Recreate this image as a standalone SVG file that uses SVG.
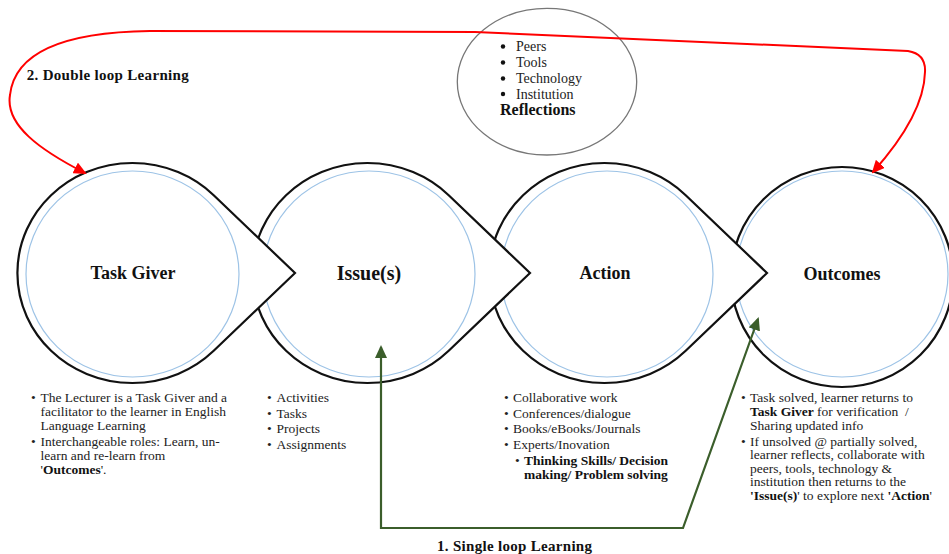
<svg xmlns="http://www.w3.org/2000/svg" width="949" height="554" viewBox="0 0 949 554">
<style>
.outer{fill:#fff;stroke:#111;stroke-width:2.2}
.inner{fill:none;stroke:#9dc3e6;stroke-width:1.2}
.title{font-family:"Liberation Serif","Times New Roman",serif;font-weight:bold;font-size:18px;fill:#111;text-anchor:middle}
.t{font-family:"Liberation Serif","Times New Roman",serif;font-size:13.5px;fill:#222}
.tr{font-family:"Liberation Serif","Times New Roman",serif;font-size:14px;fill:#222}
.b{font-weight:bold;fill:#111}
.dot{fill:#111}
.lbl{font-family:"Liberation Serif","Times New Roman",serif;font-weight:bold;font-size:15px;fill:#111}
.red{fill:none;stroke:#ff0000;stroke-width:2}
.green{fill:none;stroke:#3b5e2b;stroke-width:2.2}
</style>
<defs>
<marker id="ahRed" markerUnits="userSpaceOnUse" markerWidth="13" markerHeight="12" viewBox="0 0 13 12" refX="11" refY="6" orient="auto-start-reverse"><path d="M0,0 L13,6 L0,12 z" fill="#ff0000"/></marker>
<marker id="ahGreen" markerUnits="userSpaceOnUse" markerWidth="13" markerHeight="12" viewBox="0 0 13 12" refX="11" refY="6" orient="auto-start-reverse"><path d="M0,0 L13,6 L0,12 z" fill="#3b5e2b"/></marker>
</defs>

<g id="node-outcomes">
<ellipse class="outer" cx="842" cy="277" rx="111" ry="110"/>
<ellipse class="inner" cx="842" cy="274" rx="106" ry="103"/>
<text class="title" x="842" y="280">Outcomes</text>
<text class="t" x="741" y="402">•</text><text class="t" x="750" y="402">Task solved, learner returns to</text>
<text class="t" x="750" y="416"><tspan class="b">Task Giver</tspan> for verification &#160;/</text>
<text class="t" x="750" y="430">Sharing updated info</text>
<text class="t" x="741" y="445.5">•</text><text class="t" x="750" y="445.5">If unsolved @ partially solved,</text>
<text class="t" x="750" y="459">learner reflects, collaborate with</text>
<text class="t" x="750" y="472.5">peers, tools, technology &amp;</text>
<text class="t" x="750" y="486">institution then returns to the</text>
<text class="t" x="750" y="499.5"><tspan class="b">'Issue(s)</tspan>' to explore next <tspan class="b">'Action</tspan>'</text>
</g>

<g id="node-action">
<path class="outer" d="M767 273 L685.7 350.8 A115 110 0 1 1 685.7 195.2 Z"/>
<ellipse class="inner" cx="607" cy="274" rx="106" ry="103"/>
<text class="title" x="605" y="279">Action</text>
<text class="t" x="504" y="402">•</text><text class="t" x="513" y="402">Collaborative work</text>
<text class="t" x="504" y="417.5">•</text><text class="t" x="513" y="417.5">Conferences/dialogue</text>
<text class="t" x="504" y="433">•</text><text class="t" x="513" y="433">Books/eBooks/Journals</text>
<text class="t" x="504" y="449">•</text><text class="t" x="513" y="449">Experts/Inovation</text>
<text class="t" x="515" y="465">•</text><text class="t b" x="524" y="465">Thinking Skills/ Decision</text>
<text class="t b" x="524" y="479">making/ Problem solving</text>
</g>

<g id="node-issues">
<path class="outer" d="M530 273 L448.7 350.8 A115 110 0 1 1 448.7 195.2 Z"/>
<ellipse class="inner" cx="369" cy="274" rx="106" ry="103"/>
<text class="title" x="369" y="280" style="font-size:20px">Issue(s)</text>
<text class="t" x="267" y="402">•</text><text class="t" x="276.5" y="402">Activities</text>
<text class="t" x="267" y="417.5">•</text><text class="t" x="276.5" y="417.5">Tasks</text>
<text class="t" x="267" y="433">•</text><text class="t" x="276.5" y="433">Projects</text>
<text class="t" x="267" y="448.5">•</text><text class="t" x="276.5" y="448.5">Assignments</text>
</g>

<g id="node-taskgiver">
<path class="outer" d="M295 273 L213.7 350.8 A115 110 0 1 1 213.7 195.2 Z"/>
<ellipse class="inner" cx="132.5" cy="274" rx="106.5" ry="103"/>
<text class="title" x="133" y="279">Task Giver</text>
<text class="t" x="31" y="402">•</text><text class="t" x="40.5" y="402">The Lecturer is a Task Giver and a</text>
<text class="t" x="40.5" y="416">facilitator to the learner in English</text>
<text class="t" x="40.5" y="430">Language Learning</text>
<text class="t" x="31" y="445.5">•</text><text class="t" x="40.5" y="445.5">Interchangeable roles: Learn, un-</text>
<text class="t" x="40.5" y="459.5">learn and re-learn from</text>
<text class="t" x="40.5" y="473.5">'<tspan class="b">Outcomes</tspan>'.</text>
</g>

<g id="node-reflections">
<ellipse cx="547" cy="81.7" rx="89.7" ry="73.3" fill="none" stroke="#777" stroke-width="1.3"/>
<circle class="dot" cx="503" cy="46.5" r="2.2"/><text class="tr" x="516" y="51">Peers</text>
<circle class="dot" cx="503" cy="62.5" r="2.2"/><text class="tr" x="516" y="67">Tools</text>
<circle class="dot" cx="503" cy="78.5" r="2.2"/><text class="tr" x="516" y="83">Technology</text>
<circle class="dot" cx="503" cy="94" r="2.2"/><text class="tr" x="516" y="98.5">Institution</text>
<text class="tr b" x="500" y="115" style="font-size:16px">Reflections</text>
</g>

<g id="connectors">
<path class="red" marker-start="url(#ahRed)" marker-end="url(#ahRed)" d="M85 173 C40 150 5 125 10 95 C15 50 70 32 150 31 L475 32 L908 51 Q926 54 925 72 Q924 115 873 172"/>
<text class="lbl" x="26.7" y="80" textLength="162" lengthAdjust="spacing">2. Double loop Learning</text>
<path class="green" marker-start="url(#ahGreen)" marker-end="url(#ahGreen)" d="M381 347 L381 528 L683 528 L758 319"/>
<text class="lbl" x="437" y="551" textLength="155" lengthAdjust="spacing">1. Single loop Learning</text>
</g>
</svg>
